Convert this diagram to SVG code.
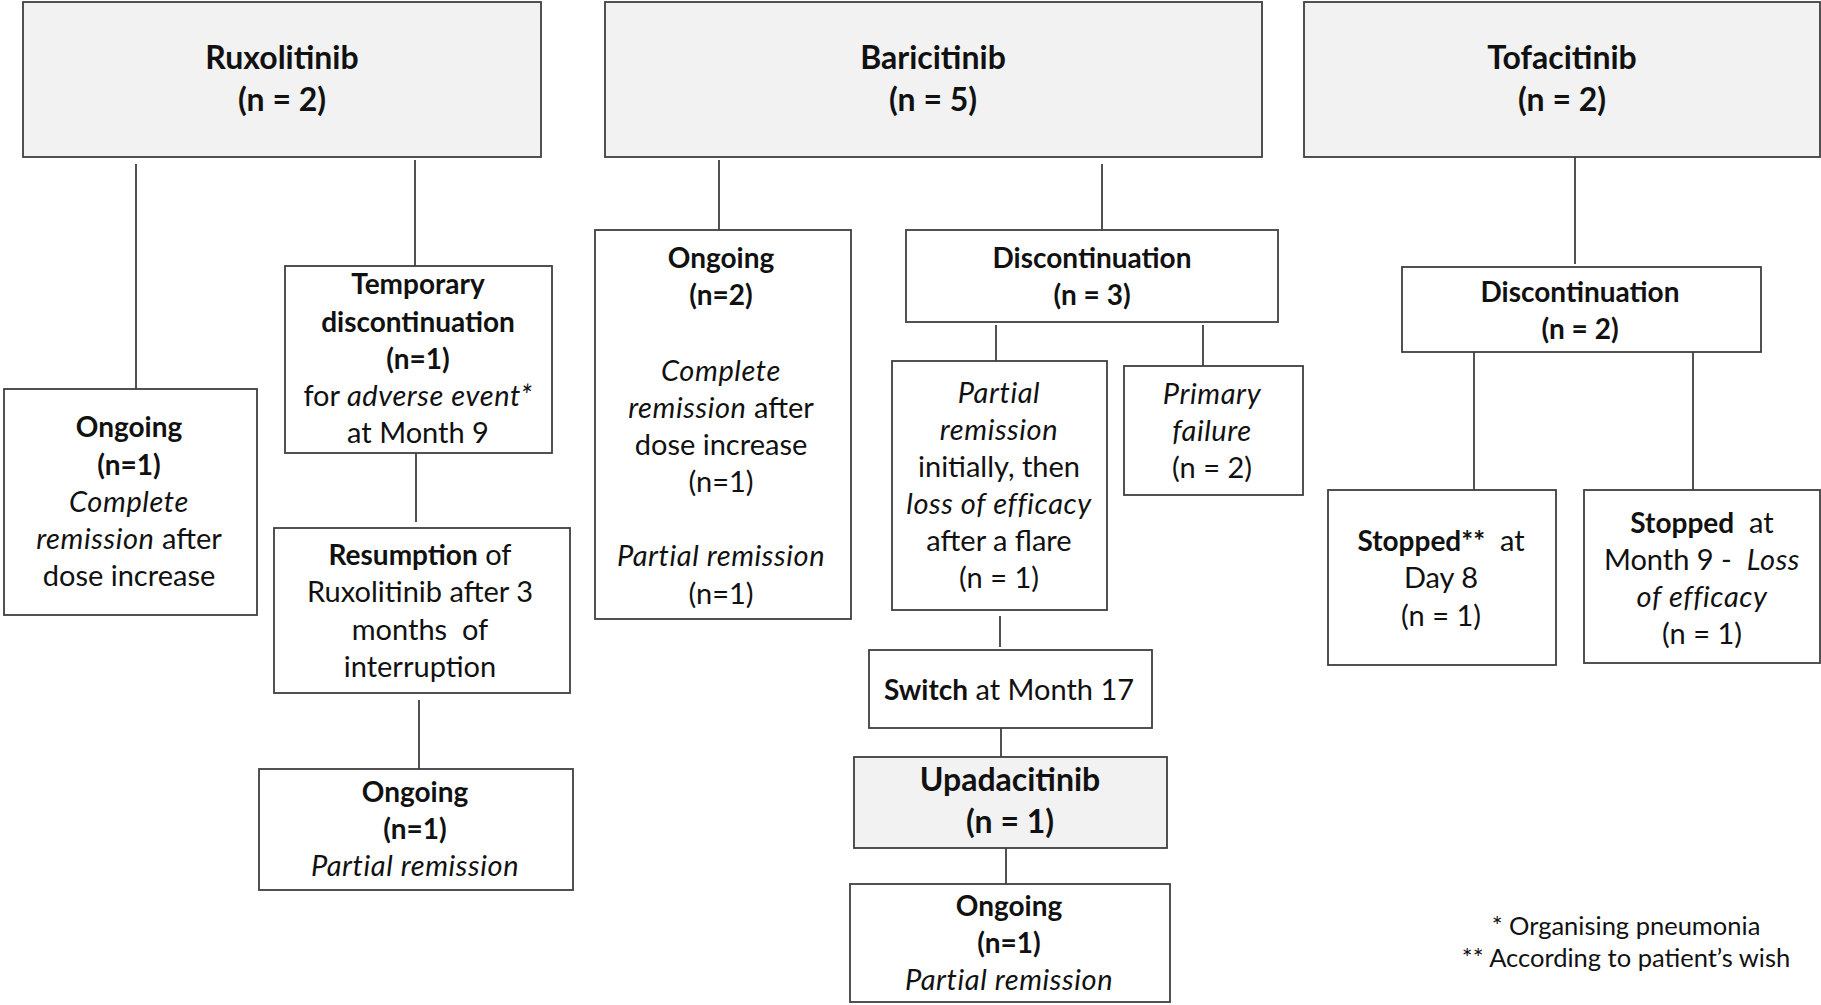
<svg xmlns="http://www.w3.org/2000/svg" width="1821" height="1005" viewBox="0 0 1821 1005">
<style>
.box{fill:#fff;stroke:#3f3f3f;stroke-width:1.8}
.hdr{fill:#f2f2f2}
.t{font-family:Lato,"Open Sans","Liberation Sans",sans-serif;font-size:29px;fill:#111;text-anchor:middle}
.h{font-size:32px;font-weight:bold}
.b{font-weight:bold;font-size:28px}
.i{font-style:italic;letter-spacing:0.6px}
.fn{font-size:25.5px}
#connectors line{stroke:#3f3f3f;stroke-width:1.8}
</style>
<rect width="1821" height="1005" fill="#fff"/>
<g id="connectors">
<line x1="136" y1="164" x2="136" y2="389"/>
<line x1="415" y1="160" x2="415" y2="266"/>
<line x1="416" y1="453" x2="416" y2="522"/>
<line x1="419" y1="700" x2="419" y2="769"/>
<line x1="719" y1="160" x2="719" y2="230"/>
<line x1="1102" y1="164" x2="1102" y2="230"/>
<line x1="996" y1="325" x2="996" y2="361"/>
<line x1="1203" y1="325" x2="1203" y2="366"/>
<line x1="1000" y1="616" x2="1000" y2="647"/>
<line x1="1001" y1="728" x2="1001" y2="757"/>
<line x1="1006" y1="848" x2="1006" y2="884"/>
<line x1="1575" y1="157" x2="1575" y2="264"/>
<line x1="1474" y1="352" x2="1474" y2="490"/>
<line x1="1693" y1="352" x2="1693" y2="490"/>
</g>
<g id="ruxolitinib">
<rect class="box hdr" x="23" y="2" width="518" height="155"/>
<text class="t h" x="282" y="69">Ruxolitinib</text>
<text class="t h" x="282" y="111">(n = 2)</text>
</g>
<g id="baricitinib">
<rect class="box hdr" x="605" y="2" width="657" height="155"/>
<text class="t h" x="933" y="69">Baricitinib</text>
<text class="t h" x="933" y="111">(n = 5)</text>
</g>
<g id="tofacitinib">
<rect class="box hdr" x="1304" y="2" width="516" height="155"/>
<text class="t h" x="1562" y="69">Tofacitinib</text>
<text class="t h" x="1562" y="111">(n = 2)</text>
</g>
<g id="rux-ongoing">
<rect class="box" x="4" y="389" width="253" height="226"/>
<text class="t b" x="129" y="437">Ongoing</text>
<text class="t b" x="129" y="475">(n=1)</text>
<text class="t i" x="129" y="512">Complete</text>
<text class="t" x="129" y="549"><tspan class="i">remission</tspan> after</text>
<text class="t" x="129" y="586">dose increase</text>
</g>
<g id="rux-temporary">
<rect class="box" x="285" y="266" width="267" height="187"/>
<text class="t b" x="418" y="294">Temporary</text>
<text class="t b" x="418" y="332">discontinuation</text>
<text class="t b" x="418" y="369">(n=1)</text>
<text class="t" x="418" y="406">for <tspan class="i">adverse event*</tspan></text>
<text class="t" x="418" y="443">at Month 9</text>
</g>
<g id="rux-resumption">
<rect class="box" x="274" y="528" width="296" height="165"/>
<text class="t" x="420" y="565"><tspan class="b">Resumption</tspan> of</text>
<text class="t" x="420" y="602">Ruxolitinib after 3</text>
<text class="t" x="420" y="640" xml:space="preserve">months  of</text>
<text class="t" x="420" y="677">interruption</text>
</g>
<g id="rux-ongoing-2">
<rect class="box" x="259" y="769" width="314" height="121"/>
<text class="t b" x="415" y="802">Ongoing</text>
<text class="t b" x="415" y="839">(n=1)</text>
<text class="t i" x="415" y="876">Partial remission</text>
</g>
<g id="bari-ongoing">
<rect class="box" x="595" y="230" width="256" height="389"/>
<text class="t b" x="721" y="268">Ongoing</text>
<text class="t b" x="721" y="305">(n=2)</text>
<text class="t i" x="721" y="381">Complete</text>
<text class="t" x="721" y="418"><tspan class="i">remission</tspan> after</text>
<text class="t" x="721" y="455">dose increase</text>
<text class="t" x="721" y="492">(n=1)</text>
<text class="t i" x="721" y="566">Partial remission</text>
<text class="t" x="721" y="604">(n=1)</text>
</g>
<g id="bari-discontinuation">
<rect class="box" x="906" y="230" width="372" height="92"/>
<text class="t b" x="1092" y="268">Discontinuation</text>
<text class="t b" x="1092" y="305">(n = 3)</text>
</g>
<g id="bari-partial">
<rect class="box" x="892" y="361" width="215" height="249"/>
<text class="t i" x="999" y="403">Partial</text>
<text class="t i" x="999" y="440">remission</text>
<text class="t" x="999" y="477">initially, then</text>
<text class="t i" x="999" y="514">loss of efficacy</text>
<text class="t" x="999" y="551">after a flare</text>
<text class="t" x="999" y="588">(n = 1)</text>
</g>
<g id="bari-primary">
<rect class="box" x="1124" y="366" width="179" height="129"/>
<text class="t i" x="1212" y="404">Primary</text>
<text class="t i" x="1212" y="441">failure</text>
<text class="t" x="1212" y="478">(n = 2)</text>
</g>
<g id="bari-switch">
<rect class="box" x="869" y="650" width="283" height="78"/>
<text class="t" x="1009" y="700"><tspan class="b">Switch</tspan> at Month 17</text>
</g>
<g id="upadacitinib">
<rect class="box hdr" x="854" y="757" width="313" height="91"/>
<text class="t h" x="1010" y="791">Upadacitinib</text>
<text class="t h" x="1010" y="833">(n = 1)</text>
</g>
<g id="upa-ongoing">
<rect class="box" x="850" y="884" width="320" height="118"/>
<text class="t b" x="1009" y="916">Ongoing</text>
<text class="t b" x="1009" y="953">(n=1)</text>
<text class="t i" x="1009" y="990">Partial remission</text>
</g>
<g id="tofa-discontinuation">
<rect class="box" x="1402" y="267" width="359" height="85"/>
<text class="t b" x="1580" y="302">Discontinuation</text>
<text class="t b" x="1580" y="339">(n = 2)</text>
</g>
<g id="tofa-stopped-day8">
<rect class="box" x="1328" y="490" width="228" height="175"/>
<text class="t" x="1441" y="551" xml:space="preserve"><tspan class="b">Stopped**</tspan>  at</text>
<text class="t" x="1441" y="588">Day 8</text>
<text class="t" x="1441" y="626">(n = 1)</text>
</g>
<g id="tofa-stopped-month9">
<rect class="box" x="1584" y="490" width="236" height="173"/>
<text class="t" x="1702" y="533" xml:space="preserve"><tspan class="b">Stopped</tspan>  at</text>
<text class="t" x="1702" y="570" xml:space="preserve">Month 9 -  <tspan class="i">Loss</tspan></text>
<text class="t i" x="1702" y="607">of efficacy</text>
<text class="t" x="1702" y="644">(n = 1)</text>
</g>
<g id="footnotes">
<text class="t fn" x="1626" y="935">* Organising pneumonia</text>
<text class="t fn" x="1626" y="967">** According to patient’s wish</text>
</g>
</svg>
